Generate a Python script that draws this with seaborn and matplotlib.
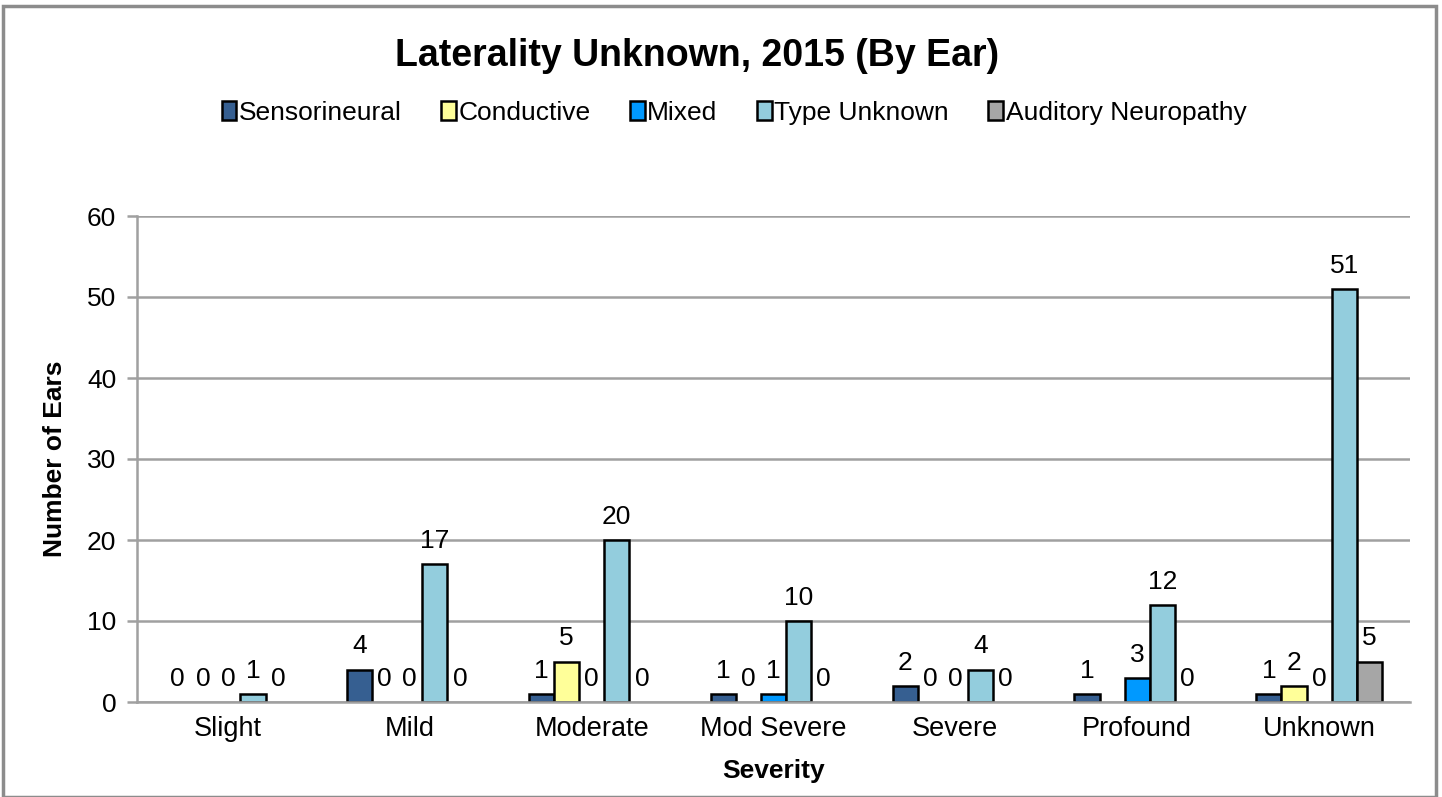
import matplotlib
matplotlib.use("Agg")
import matplotlib.pyplot as plt
import seaborn as sns
import pandas as pd
from matplotlib.patches import Rectangle

severity = ["Slight", "Mild", "Moderate", "Mod Severe", "Severe", "Profound", "Unknown"]
types = ["Sensorineural", "Conductive", "Mixed", "Type Unknown", "Auditory Neuropathy"]
sensorineural = [0, 4, 1, 1, 2, 1, 1]
conductive = [0, 0, 5, 0, 0, 0, 2]
mixed = [0, 0, 0, 1, 0, 3, 0]
type_unknown = [1, 17, 20, 10, 4, 12, 51]
auditory_neuropathy = [0, 0, 0, 0, 0, 0, 5]
hidden_labels = [("Profound", "Conductive")]
colors = ["#365F91", "#FFFF99", "#0099FF", "#93CDDD", "#A6A6A6"]

series = [sensorineural, conductive, mixed, type_unknown, auditory_neuropathy]
rows = []
for t, vals in zip(types, series):
    for s, v in zip(severity, vals):
        rows.append({"Severity": s, "Type": t, "Ears": v})
df = pd.DataFrame(rows)

sns.set_theme(style="white")
plt.rcParams["font.family"] = ["Liberation Sans", "DejaVu Sans"]
plt.rcParams["text.color"] = "black"
plt.rcParams["axes.labelcolor"] = "black"

fig = plt.figure(figsize=(14.42, 7.97), dpi=100)
ax = fig.add_axes([137 / 1442, 1 - 702 / 797, (1410 - 137) / 1442, (702 - 216) / 797])

sns.barplot(data=df, x="Severity", y="Ears", hue="Type", order=severity, hue_order=types,
            palette=colors, width=0.69, saturation=1, edgecolor="black", linewidth=1.8,
            ax=ax, legend=True)

for cont in ax.containers:
    for p in cont.patches:
        if p.get_height() == 0:
            p.set_linewidth(0)

ax.set_ylim(0, 60)
ax.set_yticks(range(0, 61, 10))
ax.set_xlim(-0.5, len(severity) - 0.5)
ax.yaxis.grid(True, color="#A0A0A0", linewidth=1.8)
ax.set_axisbelow(True)
for sp in ["top", "right"]:
    ax.spines[sp].set_visible(False)
for sp in ["left", "bottom"]:
    ax.spines[sp].set_color("#A0A0A0")
    ax.spines[sp].set_linewidth(1.8)
ax.tick_params(axis="y", which="both", left=True, length=7, width=1.8, color="#A0A0A0",
               labelsize=19, pad=8, labelcolor="black")
ax.tick_params(axis="x", bottom=False, labelsize=19.5, pad=4, labelcolor="black")

ax.set_xlabel("Severity", fontsize=19, fontweight="bold", labelpad=12, color="black")
ax.set_ylabel("Number of Ears", fontsize=19, fontweight="bold", labelpad=14, color="black")

for t, vals, cont in zip(types, series, ax.containers):
    labels = []
    for s, v in zip(severity, vals):
        labels.append("" if (s, t) in hidden_labels else f"{v}")
    ax.bar_label(cont, labels=labels, padding=8, fontsize=19, color="black")

handles, lbls = ax.get_legend_handles_labels()
ax.get_legend().remove()
fig.legend(handles, lbls, loc="center", bbox_to_anchor=(0.5 + 13 / 1442, 1 - 113 / 797), ncol=5,
           frameon=False, fontsize=19, handlelength=0.55, handleheight=0.75,
           handletextpad=0.1, columnspacing=1.5)

fig.text(697 / 1442, 1 - 56 / 797, "Laterality Unknown, 2015 (By Ear)", ha="center", va="center",
         fontsize=27, fontweight="bold", color="black")

fig.patches.append(Rectangle((3 / 1442, 0.0), 1433 / 1442, 1 - 6 / 797, transform=fig.transFigure,
                             fill=False, edgecolor="#8C8C8C", linewidth=2.5))

fig.savefig("out.png", dpi=100)
